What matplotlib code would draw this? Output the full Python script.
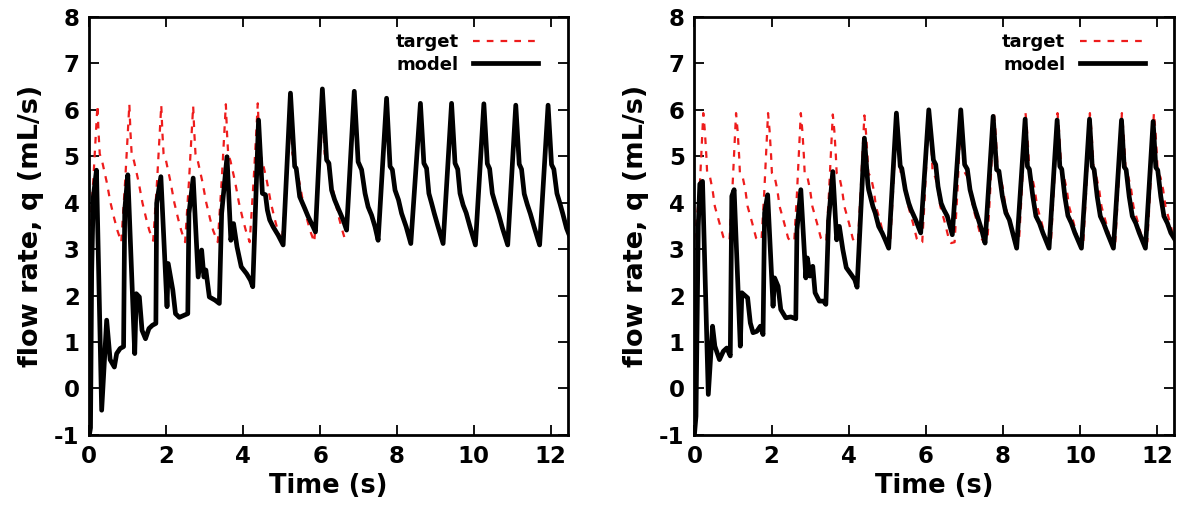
import matplotlib
matplotlib.use("Agg")
import matplotlib.pyplot as plt

# ---------------- data ----------------
# Left panel: model
left_model_t = [0.00, 0.03, 0.06, 0.10, 0.185, 0.32, 0.45, 0.54, 0.65, 0.71, 0.80, 0.89,
                0.92, 1.00, 1.18, 1.22, 1.30, 1.37, 1.46, 1.55, 1.64, 1.73,
                1.75, 1.86, 2.02, 2.05, 2.17, 2.24, 2.34, 2.48, 2.56,
                2.59, 2.70, 2.83, 2.92, 2.98, 3.03, 3.12, 3.27, 3.38,
                3.44, 3.58, 3.68, 3.75, 3.84, 3.95, 4.09, 4.19, 4.25,
                4.40, 4.50, 4.58, 4.63, 4.69, 4.78, 4.91, 5.04,
                5.23, 5.34, 5.38, 5.47, 5.60, 5.69, 5.82, 5.88,
                6.06, 6.17, 6.23, 6.30, 6.38, 6.47, 6.60, 6.69,
                6.89, 6.99, 7.08, 7.17, 7.25, 7.34, 7.43, 7.51,
                7.73, 7.82, 7.88, 7.95, 8.04, 8.12, 8.24, 8.36,
                8.61, 8.70, 8.77, 8.83, 8.90, 8.97, 9.07, 9.20,
                9.42, 9.51, 9.58, 9.64, 9.72, 9.80, 9.90, 10.04,
                10.26, 10.35, 10.41, 10.48, 10.56, 10.64, 10.74, 10.88,
                11.09, 11.18, 11.24, 11.31, 11.39, 11.47, 11.57, 11.71,
                11.93, 12.02, 12.08, 12.16, 12.24, 12.31, 12.41, 12.50]
left_model_q = [-1.00, -0.85, 2.50, 4.10, 4.70, -0.47, 1.47, 0.62, 0.46, 0.75, 0.86, 0.90,
                3.84, 4.60, 0.75, 2.04, 1.97, 1.25, 1.07, 1.29, 1.36, 1.40,
                3.99, 4.56, 1.76, 2.69, 2.12, 1.61, 1.53, 1.58, 1.61,
                3.77, 4.53, 2.40, 2.98, 2.40, 2.55, 1.97, 1.90, 1.83,
                3.77, 4.99, 3.19, 3.55, 3.05, 2.62, 2.47, 2.33, 2.19,
                5.78, 4.20, 4.17, 3.84, 3.63, 3.48, 3.30, 3.09,
                6.36, 4.78, 4.74, 4.13, 3.88, 3.70, 3.48, 3.37,
                6.45, 4.92, 4.85, 4.27, 4.06, 3.88, 3.63, 3.41,
                6.40, 4.88, 4.71, 4.20, 3.91, 3.73, 3.48, 3.19,
                6.25, 4.78, 4.71, 4.27, 4.06, 3.77, 3.48, 3.12,
                6.14, 4.85, 4.74, 4.20, 3.99, 3.77, 3.48, 3.12,
                6.14, 4.85, 4.72, 4.20, 3.95, 3.78, 3.48, 3.09,
                6.13, 4.84, 4.73, 4.20, 3.97, 3.76, 3.46, 3.09,
                6.10, 4.83, 4.72, 4.19, 3.96, 3.76, 3.47, 3.09,
                6.10, 4.82, 4.72, 4.20, 3.98, 3.77, 3.45, 3.26]

# Left panel: target
left_target_t = [0.00, 0.10, 0.15, 0.21, 0.24, 0.27, 0.33, 0.45, 0.55, 0.65, 0.73,
                 0.83, 0.93, 0.98, 1.04, 1.07, 1.10, 1.16, 1.28, 1.38, 1.48, 1.56,
                 1.66, 1.76, 1.81, 1.87, 1.90, 1.93, 1.99, 2.11, 2.21, 2.31, 2.39,
                 2.49, 2.59, 2.64, 2.70, 2.73, 2.76, 2.82, 2.94, 3.04, 3.14, 3.22,
                 3.34, 3.44, 3.49, 3.55, 3.58, 3.61, 3.67, 3.79, 3.89, 3.99, 4.07,
                 4.17, 4.27, 4.32, 4.38, 4.41, 4.44, 4.50, 4.62, 4.72, 4.82, 4.90,
                 5.01, 5.11, 5.16, 5.22, 5.25, 5.28, 5.34, 5.46, 5.56, 5.66, 5.74,
                 5.85, 5.95, 6.00, 6.06, 6.09, 6.12, 6.18, 6.30, 6.40, 6.50, 6.58,
                 6.68]
left_target_q = [3.20, 4.45, 5.20, 6.10, 5.50, 5.05, 4.90, 4.45, 4.00, 3.65, 3.40,
                 3.15, 4.45, 5.20, 6.12, 5.50, 5.05, 4.90, 4.45, 4.00, 3.65, 3.40,
                 3.18, 4.45, 5.20, 6.10, 5.50, 5.05, 4.92, 4.45, 4.00, 3.65, 3.40,
                 3.15, 4.45, 5.20, 6.08, 5.50, 5.05, 4.90, 4.45, 4.00, 3.65, 3.40,
                 3.15, 4.45, 5.20, 6.12, 5.50, 5.05, 4.90, 4.45, 4.00, 3.65, 3.40,
                 3.15, 4.45, 5.20, 6.14, 5.50, 5.05, 4.90, 4.45, 4.00, 3.65, 3.40,
                 3.15, 4.45, 5.20, 6.10, 5.50, 5.05, 4.90, 4.45, 4.00, 3.65, 3.40,
                 3.15, 4.45, 5.20, 6.10, 5.50, 5.05, 4.90, 4.45, 4.00, 3.65, 3.40,
                 3.12]

# Right panel: model
right_model_t = [0.00, 0.04, 0.10, 0.14, 0.21, 0.36, 0.47, 0.53, 0.65, 0.75, 0.84, 0.93,
                 0.97, 1.03, 1.19, 1.23, 1.38, 1.45, 1.52, 1.62, 1.71, 1.78,
                 1.82, 1.90, 2.04, 2.08, 2.17, 2.24, 2.37, 2.50, 2.63,
                 2.66, 2.76, 2.89, 2.93, 3.00, 3.07, 3.13, 3.24, 3.35, 3.41,
                 3.48, 3.59, 3.69, 3.76, 3.85, 3.94, 4.07, 4.16, 4.22,
                 4.41, 4.50, 4.52, 4.63, 4.69, 4.78, 4.87, 4.95, 5.04,
                 5.24, 5.34, 5.38, 5.47, 5.56, 5.62, 5.74, 5.87,
                 6.08, 6.20, 6.26, 6.32, 6.40, 6.47, 6.56, 6.69,
                 6.91, 7.01, 7.08, 7.15, 7.26, 7.34, 7.45, 7.54,
                 7.75, 7.84, 7.90, 7.99, 8.08, 8.17, 8.27, 8.36,
                 8.58, 8.64, 8.69, 8.78, 8.86, 8.95, 9.04, 9.20,
                 9.41, 9.48, 9.53, 9.61, 9.69, 9.78, 9.87, 10.04,
                 10.25, 10.32, 10.37, 10.45, 10.53, 10.62, 10.71, 10.87,
                 11.08, 11.15, 11.20, 11.28, 11.36, 11.45, 11.54, 11.70,
                 11.90, 11.97, 12.02, 12.10, 12.18, 12.27, 12.36, 12.47]
right_model_q = [-1.00, -0.60, 3.50, 4.40, 4.46, -0.13, 1.34, 0.91, 0.62, 0.80, 0.87, 0.70,
                 4.14, 4.28, 0.91, 2.06, 1.95, 1.41, 1.20, 1.23, 1.34, 1.16,
                 3.78, 4.17, 1.77, 2.38, 2.20, 1.70, 1.52, 1.54, 1.50,
                 3.42, 4.28, 2.38, 2.81, 2.42, 2.63, 2.06, 1.88, 1.88, 1.81,
                 3.63, 4.67, 3.20, 3.49, 2.99, 2.60, 2.45, 2.34, 2.18,
                 5.39, 4.40, 4.28, 3.92, 3.78, 3.49, 3.35, 3.20, 3.02,
                 5.93, 4.78, 4.74, 4.28, 3.99, 3.85, 3.63, 3.35,
                 6.00, 4.92, 4.82, 4.35, 3.99, 3.85, 3.71, 3.31,
                 6.00, 4.82, 4.72, 4.28, 3.92, 3.71, 3.42, 3.13,
                 5.86, 4.71, 4.68, 4.13, 3.78, 3.63, 3.31, 3.02,
                 5.80, 4.78, 4.72, 4.13, 3.71, 3.56, 3.35, 3.02,
                 5.78, 4.78, 4.72, 4.13, 3.72, 3.56, 3.35, 3.02,
                 5.80, 4.78, 4.71, 4.13, 3.71, 3.55, 3.35, 3.02,
                 5.78, 4.77, 4.71, 4.13, 3.71, 3.56, 3.35, 3.02,
                 5.75, 4.76, 4.70, 4.13, 3.71, 3.56, 3.35, 3.20]

# Right panel: target
right_target_t = [0.00, 0.13, 0.17, 0.20, 0.23, 0.27, 0.31, 0.33, 0.40, 0.47, 0.53, 0.65, 0.75, 0.81,
                  0.91, 0.98, 1.02, 1.05, 1.08, 1.12, 1.16, 1.18, 1.25, 1.32, 1.38, 1.50, 1.60, 1.66,
                  1.74, 1.81, 1.85, 1.88, 1.91, 1.95, 1.99, 2.01, 2.08, 2.15, 2.21, 2.33, 2.43, 2.49,
                  2.59, 2.66, 2.70, 2.73, 2.76, 2.80, 2.84, 2.86, 2.93, 3.00, 3.06, 3.18, 3.28, 3.34,
                  3.42, 3.49, 3.53, 3.56, 3.59, 3.63, 3.67, 3.69, 3.76, 3.83, 3.89, 4.01, 4.11, 4.17,
                  4.24, 4.31, 4.35, 4.38, 4.41, 4.45, 4.49, 4.51, 4.58, 4.65, 4.71, 4.83, 4.93, 4.99,
                  5.08, 5.15, 5.19, 5.22, 5.25, 5.29, 5.33, 5.35, 5.42, 5.49, 5.55, 5.67, 5.77, 5.85,
                  5.91, 5.98, 6.02, 6.05, 6.08, 6.12, 6.16, 6.18, 6.25, 6.32, 6.38, 6.50, 6.60, 6.66,
                  6.75, 6.82, 6.86, 6.89, 6.92, 6.96, 7.00, 7.02, 7.09, 7.16, 7.22, 7.34, 7.44, 7.50,
                  7.60, 7.67, 7.71, 7.74, 7.77, 7.81, 7.85, 7.87, 7.94, 8.01, 8.07, 8.19, 8.29, 8.35,
                  8.42, 8.49, 8.53, 8.56, 8.59, 8.63, 8.67, 8.69, 8.76, 8.83, 8.89, 9.01, 9.11, 9.17,
                  9.25, 9.32, 9.36, 9.39, 9.42, 9.46, 9.50, 9.52, 9.59, 9.66, 9.72, 9.84, 9.94, 10.00,
                  10.09, 10.16, 10.20, 10.23, 10.26, 10.30, 10.34, 10.36, 10.43, 10.50, 10.56, 10.68, 10.78, 10.84,
                  10.92, 10.99, 11.03, 11.06, 11.09, 11.13, 11.17, 11.19, 11.26, 11.33, 11.39, 11.51, 11.61, 11.67,
                  11.75, 11.82, 11.86, 11.89, 11.92, 11.96, 12.00, 12.02, 12.09, 12.16, 12.22, 12.34, 12.44]
right_target_q = [3.20, 4.20, 4.90, 5.40, 5.93, 5.55, 5.00, 4.64, 4.57, 4.28, 3.92, 3.56, 3.26, 3.20,
                  3.20, 4.20, 4.90, 5.40, 5.93, 5.55, 5.00, 4.64, 4.56, 4.28, 3.92, 3.56, 3.24, 3.20,
                  3.20, 4.20, 4.90, 5.40, 5.93, 5.55, 5.00, 4.64, 4.56, 4.28, 3.92, 3.56, 3.24, 3.17,
                  3.18, 4.20, 4.90, 5.40, 5.93, 5.55, 5.00, 4.64, 4.56, 4.28, 3.92, 3.56, 3.24, 3.17,
                  3.17, 4.20, 4.90, 5.40, 5.90, 5.55, 5.00, 4.64, 4.56, 4.28, 3.92, 3.56, 3.22, 3.14,
                  3.16, 4.20, 4.90, 5.40, 5.88, 5.52, 5.00, 4.64, 4.55, 4.28, 3.92, 3.56, 3.22, 3.14,
                  3.16, 4.20, 4.90, 5.40, 5.93, 5.55, 5.00, 4.64, 4.55, 4.28, 3.92, 3.56, 3.22, 3.13,
                  3.15, 4.20, 4.90, 5.40, 5.93, 5.55, 5.00, 4.64, 4.55, 4.28, 3.92, 3.56, 3.22, 3.13,
                  3.15, 4.20, 4.90, 5.40, 5.93, 5.55, 5.00, 4.64, 4.55, 4.28, 3.92, 3.56, 3.24, 3.16,
                  3.16, 4.20, 4.90, 5.40, 5.93, 5.55, 5.00, 4.64, 4.55, 4.28, 3.92, 3.56, 3.24, 3.16,
                  3.16, 4.20, 4.90, 5.40, 5.93, 5.55, 5.00, 4.64, 4.55, 4.28, 3.92, 3.56, 3.24, 3.16,
                  3.16, 4.20, 4.90, 5.40, 5.93, 5.55, 5.00, 4.64, 4.55, 4.28, 3.92, 3.56, 3.24, 3.16,
                  3.16, 4.20, 4.90, 5.40, 5.93, 5.55, 5.00, 4.64, 4.55, 4.28, 3.92, 3.56, 3.24, 3.16,
                  3.16, 4.20, 4.90, 5.40, 5.93, 5.55, 5.00, 4.64, 4.55, 4.28, 3.92, 3.56, 3.24, 3.16,
                  3.16, 4.20, 4.90, 5.40, 5.93, 5.55, 5.00, 4.64, 4.55, 4.28, 3.92, 3.56, 3.24]

x_ticks = [0, 2, 4, 6, 8, 10, 12]
y_ticks = [-1, 0, 1, 2, 3, 4, 5, 6, 7, 8]
x_label = "Time (s)"
y_label = "flow rate, q (mL/s)"
legend_labels = ["target", "model"]

# ---------------- drawing ----------------
plt.rcParams['font.family'] = ['DejaVu Sans']
plt.rcParams['font.weight'] = 'bold'
plt.rcParams['axes.unicode_minus'] = False

fig = plt.figure(figsize=(11.82, 5.14), dpi=100)
ax_l = fig.add_axes([0.0756, 0.154, 0.405, 0.813])
ax_r = fig.add_axes([0.5875, 0.154, 0.406, 0.813])

panels = [
    (ax_l, left_target_t, left_target_q, left_model_t, left_model_q),
    (ax_r, right_target_t, right_target_q, right_model_t, right_model_q),
]

for ax, tt, tq, mt, mq in panels:
    ax.plot(tt, tq, color='#ee1c1c', lw=1.6, dashes=(3.0, 3.2), label=legend_labels[0], zorder=2)
    ax.plot(mt, mq, color='black', lw=3.4, solid_joinstyle='round', label=legend_labels[1], zorder=3)
    ax.set_xlim(0, 12.45)
    ax.set_ylim(-1, 8)
    ax.set_xticks(x_ticks)
    ax.set_yticks(y_ticks)
    ax.tick_params(direction='in', length=7, width=1.3, top=True, right=True,
                   labelsize=16.5, pad=7)
    for lab in ax.get_xticklabels() + ax.get_yticklabels():
        lab.set_fontweight('bold')
    for s in ax.spines.values():
        s.set_linewidth(2.0)
    ax.set_xlabel(x_label, fontsize=18.5, fontweight='bold', labelpad=4)
    ax.set_ylabel(y_label, fontsize=19.5, fontweight='bold', labelpad=7)
    leg = ax.legend(loc='upper right', bbox_to_anchor=(0.972, 1.0),
                    markerfirst=False, frameon=False,
                    prop={'size': 13, 'weight': 'bold'}, handlelength=3.6,
                    handletextpad=0.8, labelspacing=0.25, borderaxespad=0.5)

fig.savefig('out.png', dpi=100)
